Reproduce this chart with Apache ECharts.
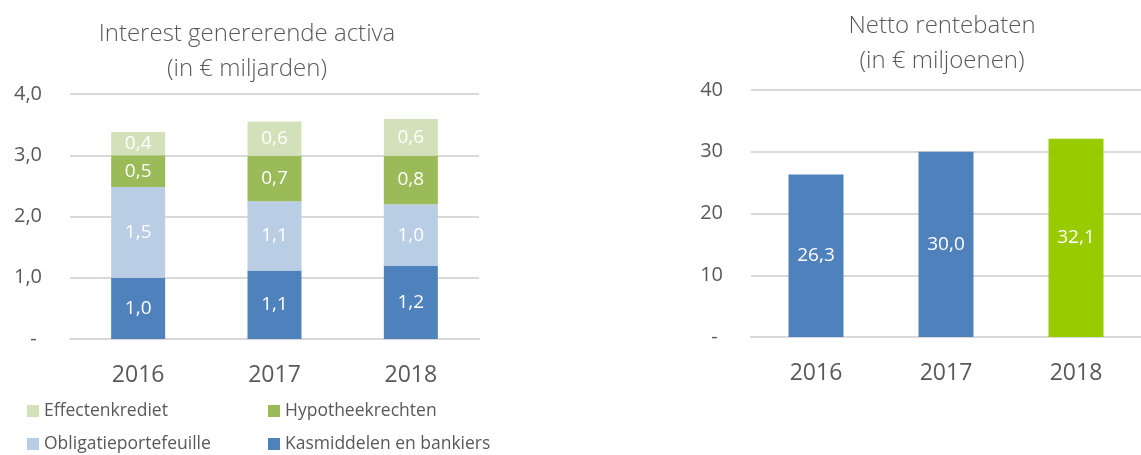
<!DOCTYPE html>
<html>
<head>
<meta charset="utf-8">
<script src="https://cdn.jsdelivr.net/npm/echarts@6/dist/echarts.min.js"></script>
<style>
  html, body { margin: 0; padding: 0; background: #fff; }
  #main { width: 1141px; height: 455px; }
</style>
</head>
<body>
<div id="main"></div>
<script>
// jaren
const years = ["2016", "2017", "2018"];

// links: interest genererende activa (in € miljarden)
const kasmiddelen = [1.0, 1.12, 1.19];
const obligaties = [1.48, 1.13, 1.01];
const hypotheken = [0.52, 0.74, 0.79];
const effecten = [0.38, 0.56, 0.6];
const leftTicks = ["-", "1,0", "2,0", "3,0", "4,0"];

// rechts: netto rentebaten (in € miljoenen)
const rentebaten = [26.3, 30.0, 32.1];
const rightTicks = ["-", "10", "20", "30", "40"];

const font = "Open Sans";
const grey = "#595959";
const gridColor = "#d9d9d9";

function fmt(v) {
  return v.toFixed(1).replace(".", ",");
}

let myChart = echarts.init(document.getElementById("main"));

function stackSeries(name, data, color) {
  return {
    name: name,
    type: "bar",
    stack: "activa",
    xAxisIndex: 0,
    yAxisIndex: 0,
    barWidth: 54,
    data: data,
    itemStyle: { color: color },
    label: {
      show: true,
      position: "inside",
      color: "#fff",
      fontFamily: font,
      fontSize: 19,
      formatter: (p) => fmt(p.value),
    },
  };
}

function legendCol(left, names) {
  return {
    orient: "vertical",
    left: left,
    top: 401,
    height: 54,
    padding: 0,
    itemWidth: 12,
    itemHeight: 12,
    itemGap: 13,
    icon: "rect",
    data: names,
    textStyle: { fontFamily: font, fontSize: 17.5, color: grey, lineHeight: 20 },
  };
}

function titleText(text, left, top) {
  return {
    text: text,
    left: left,
    top: top,
    textAlign: "center",
    textStyle: {
      fontFamily: font,
      fontSize: 24,
      fontWeight: 300,
      color: grey,
      lineHeight: 35,
    },
  };
}

const option = {
  animation: false,
  title: [
    titleText("Interest genererende activa\n(in € miljarden)", 242, 12),
    titleText("Netto rentebaten\n(in € miljoenen)", 937, 4),
  ],
  legend: [
    legendCol(27, ["Effectenkrediet", "Obligatieportefeuille"]),
    legendCol(268, ["Hypotheekrechten", "Kasmiddelen en bankiers"]),
  ],
  grid: [
    { left: 70, top: 94, width: 409, height: 245 },
    { left: 751, top: 90, width: 401, height: 247 },
  ],
  xAxis: [0, 1].map((i) => ({
    type: "category",
    gridIndex: i,
    data: years,
    axisTick: { show: false },
    axisLine: { lineStyle: { color: gridColor, width: 2 } },
    axisLabel: { margin: 25, fontFamily: font, fontSize: 23, color: grey },
  })),
  yAxis: [
    {
      type: "value",
      gridIndex: 0,
      min: 0,
      max: 4,
      interval: 1,
      axisLine: { show: false },
      axisTick: { show: false },
      splitLine: { lineStyle: { color: gridColor, width: 2 } },
      axisLabel: {
        margin: 28,
        fontFamily: font,
        fontSize: 20,
        color: grey,
        formatter: (v) => (v === 0 ? "- " : leftTicks[Math.round(v)]),
      },
    },
    {
      type: "value",
      gridIndex: 1,
      min: 0,
      max: 40,
      interval: 10,
      axisLine: { show: false },
      axisTick: { show: false },
      splitLine: { lineStyle: { color: gridColor, width: 2 } },
      axisLabel: {
        margin: 28,
        fontFamily: font,
        fontSize: 20,
        color: grey,
        formatter: (v) => (v === 0 ? "- " : rightTicks[Math.round(v / 10)]),
      },
    },
  ],
  series: [
    stackSeries("Kasmiddelen en bankiers", kasmiddelen, "#4f81bd"),
    stackSeries("Obligatieportefeuille", obligaties, "#b9cde5"),
    stackSeries("Hypotheekrechten", hypotheken, "#9bbb59"),
    stackSeries("Effectenkrediet", effecten, "#d3e1bb"),
    {
      name: "Netto rentebaten",
      type: "bar",
      xAxisIndex: 1,
      yAxisIndex: 1,
      barWidth: 55,
      data: rentebaten.map((v, i) => ({
        value: v,
        itemStyle: { color: i === 2 ? "#99cc00" : "#4f81bd" },
      })),
      label: {
        show: true,
        position: "inside",
        color: "#fff",
        fontFamily: font,
        fontSize: 19,
        formatter: (p) => fmt(p.value),
      },
    },
  ],
};

myChart.setOption(option);
window.addEventListener("resize", myChart.resize);
</script>
</body>
</html>
